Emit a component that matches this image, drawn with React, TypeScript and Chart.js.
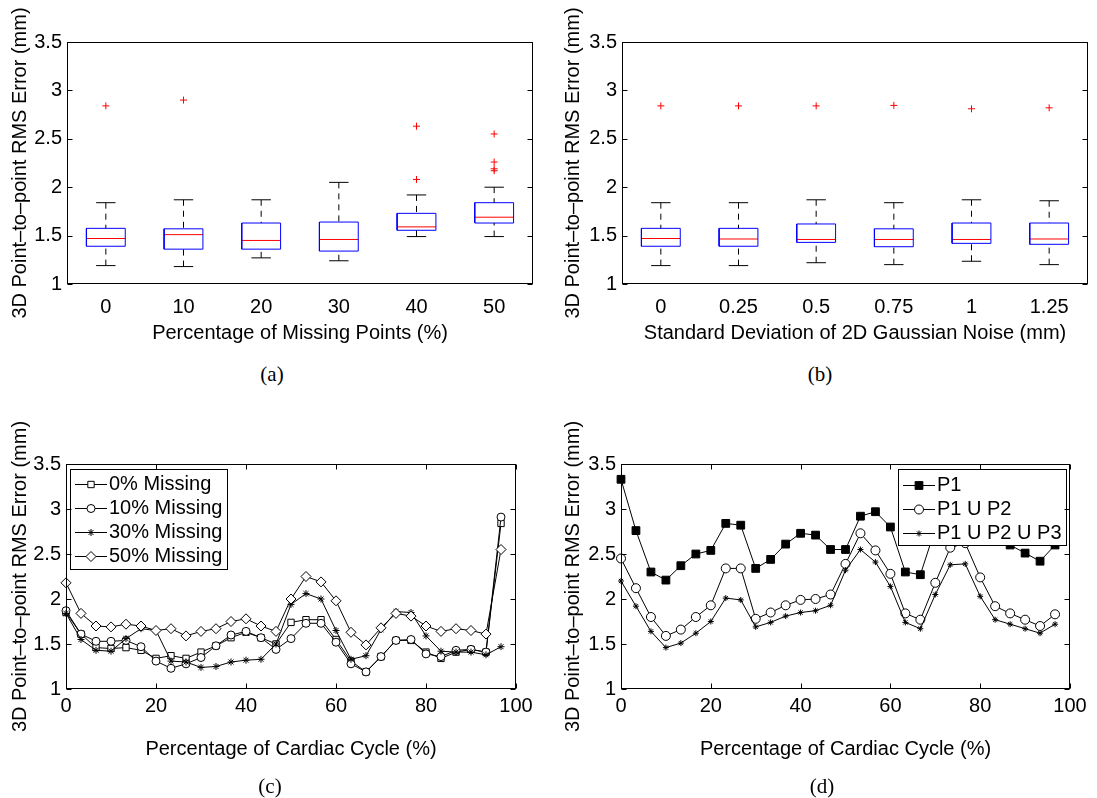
import React, { useEffect, useRef } from 'react';
import { Chart, registerables } from 'chart.js';

Chart.register(...registerables);

const SANS = "'Liberation Sans', Arial, Helvetica, sans-serif";
const SERIF = "'Liberation Serif', 'DejaVu Serif', serif";
const Y_TITLE = '3D Point\u2013to\u2013point RMS Error (mm)';
const Y_TICKS = [1, 1.5, 2, 2.5, 3, 3.5];

// (a) Percentage of missing points
const MISSING_LABELS = ['0', '10', '20', '30', '40', '50'];
const MISSING_LO = [1.19, 1.18, 1.27, 1.24, 1.49, 1.49];
const MISSING_Q1 = [1.39, 1.36, 1.36, 1.34, 1.555, 1.63];
const MISSING_MED = [1.47, 1.51, 1.45, 1.46, 1.59, 1.69];
const MISSING_Q3 = [1.575, 1.57, 1.63, 1.64, 1.73, 1.84];
const MISSING_HI = [1.84, 1.87, 1.87, 2.05, 1.92, 2.0];
const MISSING_OUT = [[2.84], [2.9], [], [], [2.63, 2.08], [2.55, 2.26, 2.19, 2.17]];

// (b) Std. dev. of 2D Gaussian noise
const NOISE_LABELS = ['0', '0.25', '0.5', '0.75', '1', '1.25'];
const NOISE_LO = [1.19, 1.19, 1.22, 1.2, 1.235, 1.2];
const NOISE_Q1 = [1.39, 1.39, 1.43, 1.385, 1.42, 1.41];
const NOISE_MED = [1.47, 1.465, 1.46, 1.46, 1.46, 1.465];
const NOISE_Q3 = [1.575, 1.575, 1.62, 1.57, 1.63, 1.63];
const NOISE_HI = [1.84, 1.84, 1.87, 1.84, 1.87, 1.86];
const NOISE_OUT = [[2.84], [2.84], [2.84], [2.845], [2.81], [2.82]];

// (c), (d) Percentage of cardiac cycle
const CYCLE_PCT = [0, 3.33, 6.67, 10, 13.33, 16.67, 20, 23.33, 26.67, 30, 33.33, 36.67, 40, 43.33, 46.67, 50, 53.33, 56.67, 60, 63.33, 66.67, 70, 73.33, 76.67, 80, 83.33, 86.67, 90, 93.33, 96.67];
const X_TICKS_CYCLE = [0, 20, 40, 60, 80, 100];

const MISS0 = [1.85, 1.61, 1.46, 1.45, 1.46, 1.43, 1.34, 1.37, 1.34, 1.41, 1.48, 1.57, 1.63, 1.57, 1.5, 1.74, 1.77, 1.77, 1.55, 1.31, 1.19, 1.36, 1.54, 1.54, 1.41, 1.34, 1.41, 1.44, 1.41, 2.84];
const MISS10 = [1.87, 1.61, 1.53, 1.53, 1.54, 1.47, 1.31, 1.23, 1.28, 1.35, 1.48, 1.6, 1.64, 1.57, 1.44, 1.56, 1.73, 1.73, 1.52, 1.28, 1.19, 1.36, 1.54, 1.55, 1.39, 1.36, 1.43, 1.44, 1.41, 2.91];
const MISS30 = [1.84, 1.55, 1.43, 1.42, 1.56, 1.67, 1.65, 1.31, 1.3, 1.24, 1.25, 1.3, 1.32, 1.33, 1.5, 1.94, 2.06, 2.0, 1.65, 1.33, 1.37, 1.66, 1.86, 1.85, 1.59, 1.42, 1.41, 1.41, 1.38, 1.47];
const MISS50 = [2.18, 1.84, 1.7, 1.69, 1.72, 1.7, 1.65, 1.67, 1.59, 1.64, 1.67, 1.75, 1.78, 1.7, 1.64, 2.0, 2.25, 2.19, 1.98, 1.63, 1.49, 1.68, 1.84, 1.81, 1.7, 1.64, 1.67, 1.65, 1.61, 2.55];

const P1 = [3.33, 2.76, 2.3, 2.21, 2.37, 2.5, 2.54, 2.84, 2.82, 2.34, 2.44, 2.61, 2.73, 2.71, 2.55, 2.55, 2.92, 2.97, 2.8, 2.3, 2.27, 2.78, 2.95, 2.98, 2.88, 2.75, 2.6, 2.51, 2.42, 2.6];
const P1_P2 = [2.45, 2.12, 1.8, 1.59, 1.66, 1.8, 1.93, 2.34, 2.34, 1.78, 1.85, 1.93, 1.99, 2.0, 2.05, 2.39, 2.73, 2.54, 2.28, 1.84, 1.77, 2.18, 2.57, 2.62, 2.24, 1.92, 1.84, 1.77, 1.7, 1.83];
const P1_P2_P3 = [2.2, 1.92, 1.64, 1.46, 1.51, 1.62, 1.75, 2.01, 1.99, 1.69, 1.74, 1.81, 1.85, 1.87, 1.93, 2.32, 2.55, 2.41, 2.14, 1.74, 1.67, 2.05, 2.38, 2.39, 2.03, 1.77, 1.72, 1.67, 1.62, 1.72];

const MISS_SERIES = [
  { label: '0% Missing', data: MISS0, style: 'rect', r: 4.5, filled: false },
  { label: '10% Missing', data: MISS10, style: 'circle', r: 4, filled: false },
  { label: '30% Missing', data: MISS30, style: 'star', r: 3.5, filled: false },
  { label: '50% Missing', data: MISS50, style: 'rectRot', r: 5, filled: false },
];
const PHASE_SERIES = [
  { label: 'P1', data: P1, style: 'rect', r: 5.5, filled: true },
  { label: 'P1 U P2', data: P1_P2, style: 'circle', r: 4.5, filled: false },
  { label: 'P1 U P2 U P3', data: P1_P2_P3, style: 'star', r: 3, filled: false },
];

function drawMarker(ctx: CanvasRenderingContext2D, style: string, x: number, y: number, r: number, filled: boolean) {
  ctx.beginPath();
  if (style === 'rect') {
    const s = r * Math.SQRT1_2;
    ctx.rect(x - s, y - s, 2 * s, 2 * s);
  } else if (style === 'circle') {
    ctx.arc(x, y, r, 0, Math.PI * 2);
  } else if (style === 'rectRot') {
    ctx.moveTo(x - r, y); ctx.lineTo(x, y - r); ctx.lineTo(x + r, y); ctx.lineTo(x, y + r); ctx.closePath();
  } else if (style === 'star') {
    const d = r * Math.SQRT1_2;
    ctx.moveTo(x - r, y); ctx.lineTo(x + r, y);
    ctx.moveTo(x, y - r); ctx.lineTo(x, y + r);
    ctx.moveTo(x - d, y - d); ctx.lineTo(x + d, y + d);
    ctx.moveTo(x - d, y + d); ctx.lineTo(x + d, y - d);
  }
  if (style !== 'star') {
    ctx.fillStyle = filled ? '#000' : '#fff';
    ctx.fill();
  }
  ctx.stroke();
}

const framePlugin = {
  id: 'matlabFrame',
  afterDraw(chart: any, _args: any, opts: any) {
    const { ctx, chartArea, scales } = chart;
    const left = Math.round(chartArea.left) + 0.5;
    const right = Math.round(chartArea.right) - 0.5;
    const top = Math.round(chartArea.top) + 0.5;
    const bottom = Math.round(chartArea.bottom) - 0.5;
    const L = 5;
    ctx.save();
    ctx.strokeStyle = '#000';
    ctx.lineWidth = 1;
    ctx.beginPath();
    scales.y.ticks.forEach((t: any) => {
      const py = Math.round(scales.y.getPixelForValue(t.value)) + 0.5;
      ctx.moveTo(left, py); ctx.lineTo(left + L, py);
      ctx.moveTo(right, py); ctx.lineTo(right - L, py);
    });
    if (opts && opts.xTicks) {
      scales.x.ticks.forEach((t: any) => {
        const px = Math.round(scales.x.getPixelForValue(t.value)) + 0.5;
        ctx.moveTo(px, top); ctx.lineTo(px, top + L);
        ctx.moveTo(px, bottom); ctx.lineTo(px, bottom - L);
      });
    }
    ctx.stroke();
    ctx.strokeRect(left, top, right - left, bottom - top);
    ctx.restore();
  },
};

const legendPlugin = {
  id: 'matlabLegend',
  afterDatasetsDraw(chart: any, _args: any, opts: any) {
    if (!opts || !opts.items) return;
    const { ctx } = chart;
    ctx.save();
    ctx.fillStyle = '#fff';
    ctx.strokeStyle = '#000';
    ctx.lineWidth = 1;
    ctx.fillRect(opts.x, opts.y, opts.w, opts.h);
    ctx.strokeRect(opts.x + 0.5, opts.y + 0.5, opts.w, opts.h);
    ctx.font = `20px ${SANS}`;
    ctx.textBaseline = 'middle';
    ctx.textAlign = 'left';
    opts.items.forEach((it: any, i: number) => {
      const y = opts.rows[i] + 0.5;
      ctx.strokeStyle = '#000';
      ctx.beginPath();
      ctx.moveTo(opts.lineX0, y); ctx.lineTo(opts.lineX1, y);
      ctx.stroke();
      drawMarker(ctx, it.style, (opts.lineX0 + opts.lineX1) / 2, y, it.r, it.filled);
      ctx.fillStyle = '#000';
      ctx.fillText(it.label, opts.textX, y);
    });
    ctx.restore();
  },
};

function boxDatasets(lo: number[], q1: number[], med: number[], q3: number[], hi: number[], out: number[][]) {
  const outline: any[] = [];
  const median: any[] = [];
  const whisk: any[] = [];
  const caps: any[] = [];
  const outl: any[] = [];
  med.forEach((_, i) => {
    outline.push({ x: i - 0.25, y: q1[i] }, { x: i + 0.25, y: q1[i] }, { x: i + 0.25, y: q3[i] }, { x: i - 0.25, y: q3[i] }, { x: i - 0.25, y: q1[i] }, { x: i, y: null });
    median.push({ x: i - 0.25, y: med[i] }, { x: i + 0.25, y: med[i] }, { x: i, y: null });
    whisk.push({ x: i, y: hi[i] }, { x: i, y: q3[i] }, { x: i, y: null }, { x: i, y: lo[i] }, { x: i, y: q1[i] }, { x: i, y: null });
    caps.push({ x: i - 0.125, y: hi[i] }, { x: i + 0.125, y: hi[i] }, { x: i, y: null }, { x: i - 0.125, y: lo[i] }, { x: i + 0.125, y: lo[i] }, { x: i, y: null });
    out[i].forEach((v) => outl.push({ x: i, y: v }));
  });
  const line = { showLine: true, pointRadius: 0, borderWidth: 1, spanGaps: false, tension: 0, clip: false };
  return [
    { ...line, data: whisk, borderColor: '#000', borderDash: [6, 5] },
    { ...line, data: caps, borderColor: '#000' },
    { ...line, data: outline, borderColor: '#0000ff' },
    { ...line, data: median, borderColor: '#ff0000' },
    { data: outl, showLine: false, pointStyle: 'cross', pointRadius: 3.5, pointBorderColor: '#ff0000', pointBorderWidth: 1, pointBackgroundColor: '#ff0000', clip: false },
  ];
}

function lineDatasets(series: any[]) {
  return series.map((s, k) => ({
    label: s.label,
    data: CYCLE_PCT.map((x, i) => ({ x, y: s.data[i] })),
    showLine: true,
    tension: 0,
    borderColor: '#000',
    borderWidth: 1,
    pointStyle: s.style,
    pointRadius: s.r,
    pointBorderColor: '#000',
    pointBorderWidth: 1,
    pointBackgroundColor: s.filled ? '#000' : '#fff',
    clip: false,
    order: series.length - k,
  }));
}

type PanelSpec = {
  w: number; h: number;
  plotL: number; plotR: number; plotT: number; plotB: number;
  xMin: number; xMax: number; xTicks: number[]; xLabel: (v: number) => string;
  xTitle: string; xTickPad: number; xTitlePad: number; yTitlePad: number;
  xTickMarks: boolean; datasets: any[]; legend?: any;
};

function makeConfig(p: PanelSpec): any {
  const font = { family: SANS, size: 20 };
  return {
    type: 'scatter',
    data: { datasets: p.datasets },
    options: {
      responsive: false,
      animation: false,
      devicePixelRatio: 1,
      events: [],
      layout: { padding: { left: 0, top: p.plotT, right: p.w - p.plotR, bottom: 0 } },
      plugins: {
        legend: { display: false },
        tooltip: { enabled: false },
        matlabFrame: { xTicks: p.xTickMarks },
        matlabLegend: p.legend || {},
      },
      scales: {
        x: {
          type: 'linear', min: p.xMin, max: p.xMax,
          afterBuildTicks: (s: any) => { s.ticks = p.xTicks.map((v) => ({ value: v })); },
          afterFit: (s: any) => { s.height = p.h - p.plotB; },
          grid: { display: false, drawTicks: false }, border: { display: false },
          ticks: { padding: p.xTickPad, color: '#000', font, maxRotation: 0, minRotation: 0, autoSkip: false, callback: (v: number) => p.xLabel(v) },
          title: { display: true, text: p.xTitle, color: '#000', font, padding: { top: 0, bottom: p.xTitlePad } },
        },
        y: {
          type: 'linear', min: 1, max: 3.5,
          afterBuildTicks: (s: any) => { s.ticks = Y_TICKS.map((v) => ({ value: v })); },
          afterFit: (s: any) => { s.width = p.plotL; },
          grid: { display: false, drawTicks: false }, border: { display: false },
          ticks: { padding: 5, color: '#000', font, callback: (v: number) => String(v) },
          title: { display: true, text: Y_TITLE, color: '#000', font, padding: { top: p.yTitlePad, bottom: 0 } },
        },
      },
    },
    plugins: [legendPlugin, framePlugin],
  };
}

function Panel({ left, top, spec }: { left: number; top: number; spec: () => PanelSpec }) {
  const ref = useRef<HTMLCanvasElement>(null);
  const s = spec();
  useEffect(() => {
    const chart = new Chart(ref.current as HTMLCanvasElement, makeConfig(spec()));
    return () => chart.destroy();
  }, []);
  return (
    <canvas ref={ref} width={s.w} height={s.h} style={{ position: 'absolute', left, top, width: s.w, height: s.h }} />
  );
}

const specA = (): PanelSpec => ({
  w: 545, h: 360, plotL: 67, plotR: 533, plotT: 42, plotB: 284,
  xMin: -0.5, xMax: 5.5, xTicks: MISSING_LABELS.map((_, i) => i), xLabel: (v) => MISSING_LABELS[v] ?? '',
  xTitle: 'Percentage of Missing Points (%)', xTickPad: 11, xTitlePad: 15, yTitlePad: 8, xTickMarks: false,
  datasets: boxDatasets(MISSING_LO, MISSING_Q1, MISSING_MED, MISSING_Q3, MISSING_HI, MISSING_OUT),
});

const specB = (): PanelSpec => ({
  w: 542, h: 360, plotL: 67, plotR: 533, plotT: 42, plotB: 284,
  xMin: -0.5, xMax: 5.5, xTicks: NOISE_LABELS.map((_, i) => i), xLabel: (v) => NOISE_LABELS[v] ?? '',
  xTitle: 'Standard Deviation of 2D Gaussian Noise (mm)', xTickPad: 11, xTitlePad: 15, yTitlePad: 6, xTickMarks: false,
  datasets: boxDatasets(NOISE_LO, NOISE_Q1, NOISE_MED, NOISE_Q3, NOISE_HI, NOISE_OUT),
});

const specC = (): PanelSpec => ({
  w: 545, h: 378, plotL: 66, plotR: 516, plotT: 44, plotB: 269,
  xMin: 0, xMax: 100, xTicks: X_TICKS_CYCLE, xLabel: (v) => String(v),
  xTitle: 'Percentage of Cardiac Cycle (%)', xTickPad: 5, xTitlePad: 37, yTitlePad: 8, xTickMarks: true,
  datasets: lineDatasets(MISS_SERIES),
  legend: { x: 70, y: 49, w: 157, h: 100, rows: [64, 88, 112, 136], lineX0: 75, lineX1: 107, textX: 109, items: MISS_SERIES },
});

const specD = (): PanelSpec => ({
  w: 542, h: 378, plotL: 66, plotR: 515, plotT: 44, plotB: 269,
  xMin: 0, xMax: 100, xTicks: X_TICKS_CYCLE, xLabel: (v) => String(v),
  xTitle: 'Percentage of Cardiac Cycle (%)', xTickPad: 5, xTitlePad: 37, yTitlePad: 6, xTickMarks: true,
  datasets: lineDatasets(PHASE_SERIES),
  legend: { x: 343, y: 49, w: 168, h: 76, rows: [65, 89, 113], lineX0: 348, lineX1: 380, textX: 382, items: PHASE_SERIES },
});

function Caption({ x, y, text }: { x: number; y: number; text: string }) {
  return (
    <div style={{ position: 'absolute', left: x, top: y, transform: 'translate(-50%, -50%)', fontFamily: SERIF, fontSize: 21, color: '#000', whiteSpace: 'nowrap', lineHeight: 1 }}>
      {text}
    </div>
  );
}

export default function App() {
  useEffect(() => { document.body.style.margin = '0'; }, []);
  return (
    <div style={{ position: 'absolute', left: 0, top: 0, width: 1097, height: 798, background: '#fff', overflow: 'hidden' }}>
      <Panel left={0} top={0} spec={specA} />
      <Panel left={555} top={0} spec={specB} />
      <Panel left={0} top={420} spec={specC} />
      <Panel left={555} top={420} spec={specD} />
      <Caption x={272} y={374} text="(a)" />
      <Caption x={820} y={374} text="(b)" />
      <Caption x={270} y={786} text="(c)" />
      <Caption x={822} y={786} text="(d)" />
    </div>
  );
}
